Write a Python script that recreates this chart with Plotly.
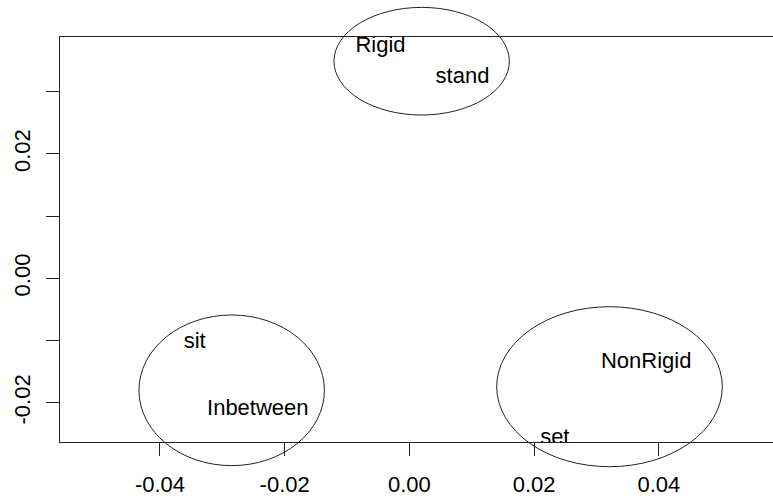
import plotly.graph_objects as go

# --- data ---
words = ["Rigid", "stand", "sit", "Inbetween", "NonRigid", "set"]
word_x = [-0.00463, 0.00852, -0.03443, -0.02431, 0.03797, 0.02332]
word_y = [0.03720, 0.03225, -0.01030, -0.02105, -0.01352, -0.02570]

# cluster ellipses (centre x, centre y, radius x, radius y) in data units
ell_cx = [0.00197, -0.02850, 0.03209]
ell_cy = [0.03490, -0.01801, -0.01743]
ell_rx = [0.01406, 0.01487, 0.01809]
ell_ry = [0.00865, 0.01211, 0.01286]

x_tickvals = [-0.04, -0.02, 0.00, 0.02, 0.04]
x_ticktext = ["-0.04", "-0.02", "0.00", "0.02", "0.04"]
y_tickvals = [-0.02, -0.01, 0.00, 0.01, 0.02, 0.03]
y_ticktext = ["-0.02", "", "0.00", "", "0.02", ""]

XR = [-0.05603, 0.05831]
YR = [-0.02632, 0.03879]

FONT = "Arial, Liberation Sans, sans-serif"
FS = 22

fig = go.Figure()
fig.add_trace(go.Scatter(
    x=word_x, y=word_y, text=words, mode="text",
    textposition="middle center",
    textfont=dict(family=FONT, size=FS, color="#000"),
    cliponaxis=True, showlegend=False, hoverinfo="skip"))

def px(v):
    return (v - XR[0]) / (XR[1] - XR[0])

def py(v):
    return (v - YR[0]) / (YR[1] - YR[0])

for cx, cy, rx, ry in zip(ell_cx, ell_cy, ell_rx, ell_ry):
    fig.add_shape(type="circle", xref="paper", yref="paper",
                  x0=px(cx - rx), x1=px(cx + rx), y0=py(cy - ry), y1=py(cy + ry),
                  line=dict(color="#222", width=1), layer="above")

fig.update_layout(
    width=773, height=499,
    margin=dict(l=60, r=0, t=37, b=57),
    paper_bgcolor="white", plot_bgcolor="white",
    font=dict(family=FONT, size=FS, color="#000"),
    showlegend=False,
)
fig.update_xaxes(range=XR, tickvals=x_tickvals, ticktext=x_ticktext,
                 showgrid=False, zeroline=False, showline=True, mirror=True,
                 linecolor="#222", linewidth=1,
                 ticks="outside", ticklen=13, tickwidth=1, tickcolor="#222",
                 tickfont=dict(size=FS, family=FONT, color="#000"),
                 ticklabelstandoff=10)
fig.update_yaxes(range=YR, tickvals=y_tickvals, ticktext=y_ticktext,
                 showgrid=False, zeroline=False, showline=True, mirror=False,
                 linecolor="#222", linewidth=1,
                 ticks="outside", ticklen=13, tickwidth=1, tickcolor="#222",
                 tickangle=-90,
                 tickfont=dict(size=FS, family=FONT, color="#000"),
                 ticklabelstandoff=7)

fig.write_html("out.html")
